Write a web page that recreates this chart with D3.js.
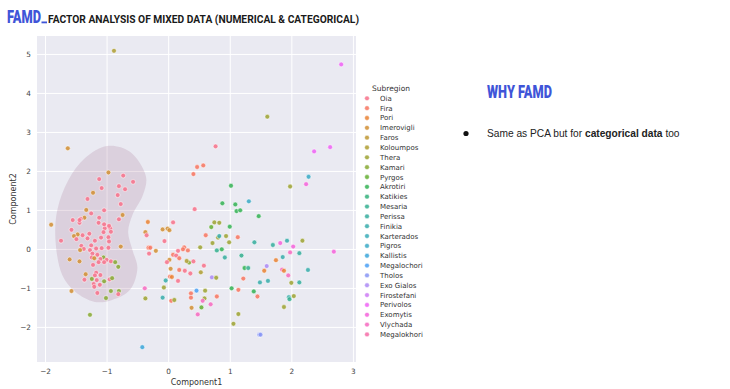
<!DOCTYPE html>
<html>
<head>
<meta charset="utf-8">
<script src="https://cdn.jsdelivr.net/npm/d3@7"></script>
<style>
  body { margin: 0; background: #fff; }
  svg { display: block; }
</style>
</head>
<body>
<svg id="chart" width="730" height="389"></svg>
<script>
console.log("JS Running");

// legend order of the hue variable
var subregions = ["Oia", "Fira", "Pori", "Imerovigli", "Faros", "Koloumpos", "Thera",
  "Kamari", "Pyrgos", "Akrotiri", "Katikies", "Mesaria", "Perissa", "Finikia",
  "Karterados", "Pigros", "Kallistis", "Megalochori", "Tholos", "Exo Gialos",
  "Firostefani", "Perivolos", "Exomytis", "Vlychada", "Megalokhori"];

var xTicks = [-2, -1, 0, 1, 2, 3];
var yTicks = [-2, -1, 0, 1, 2, 3, 4, 5];

// [Component1, Component2, Subregion]
var points = [
  [-0.88, 5.08, "Koloumpos"], [-1.63, 2.58, "Imerovigli"], [-0.97, 1.96, "Imerovigli"],
  [-1.12, 1.79, "Oia"], [-0.73, 1.88, "Oia"], [-1.08, 1.56, "Oia"], [-0.80, 1.61, "Oia"],
  [-0.70, 1.53, "Oia"], [-0.57, 1.72, "Oia"], [-0.82, 1.38, "Oia"], [-1.22, 1.44, "Imerovigli"],
  [-1.31, 1.28, "Oia"], [-0.77, 1.15, "Oia"], [-1.33, 1.00, "Imerovigli"], [-1.04, 0.99, "Oia"],
  [-1.25, 0.91, "Oia"], [-0.74, 0.87, "Imerovigli"], [-1.36, 0.80, "Imerovigli"], [-1.42, 0.77, "Oia"],
  [-1.55, 0.74, "Oia"], [-1.12, 0.80, "Oia"], [-0.80, 0.76, "Oia"], [-1.44, 0.67, "Oia"],
  [-1.13, 0.67, "Oia"], [-1.90, 0.62, "Imerovigli"], [-1.57, 0.49, "Oia"], [-1.28, 0.39, "Oia"],
  [-1.39, 0.35, "Oia"], [-1.47, 0.37, "Imerovigli"], [-1.53, 0.33, "Imerovigli"], [-0.94, 0.53, "Oia"],
  [-1.03, 0.53, "Oia"], [-1.05, 0.43, "Oia"], [-0.97, 0.30, "Oia"], [-1.31, 0.27, "Oia"],
  [-1.74, 0.21, "Oia"], [-1.49, 0.25, "Oia"], [-1.19, 0.21, "Oia"], [-1.09, 0.29, "Oia"],
  [-0.96, 0.19, "Oia"], [-1.41, 0.08, "Oia"], [-1.37, 0.00, "Oia"], [-1.43, -0.03, "Imerovigli"],
  [-1.25, 0.09, "Oia"], [-1.27, -0.03, "Oia"], [-1.17, 0.01, "Oia"], [-1.08, 0.02, "Oia"],
  [-0.97, 0.03, "Oia"], [-0.77, 0.06, "Imerovigli"], [-1.23, -0.12, "Oia"], [-1.15, -0.15, "Oia"],
  [-1.24, -0.22, "Oia"], [-1.20, -0.24, "Imerovigli"], [-1.05, -0.22, "Kamari"], [-1.10, -0.26, "Oia"],
  [-1.00, -0.28, "Oia"], [-1.13, -0.34, "Oia"], [-1.04, -0.34, "Oia"], [-0.93, -0.32, "Oia"],
  [-1.60, -0.27, "Imerovigli"], [-1.44, -0.32, "Imerovigli"], [-0.86, -0.34, "Kamari"], [-0.81, -0.46, "Kamari"],
  [-1.22, -0.41, "Oia"], [-1.17, -0.61, "Oia"], [-1.34, -0.65, "Imerovigli"], [-1.19, -0.68, "Oia"],
  [-1.10, -0.67, "Oia"], [-1.24, -0.77, "Kamari"], [-1.36, -0.79, "Oia"], [-1.16, -0.80, "Oia"],
  [-1.21, -0.90, "Oia"], [-1.20, -0.97, "Oia"], [-1.04, -0.83, "Kamari"], [-1.11, -0.92, "Oia"],
  [-0.95, -0.78, "Oia"], [-0.91, -0.75, "Kamari"], [-1.57, -1.08, "Imerovigli"], [-1.15, -1.13, "Oia"],
  [-0.93, -1.08, "Kamari"], [-0.80, -1.08, "Kamari"], [-0.81, -1.16, "Oia"], [-1.01, -1.26, "Kamari"],
  [-1.27, -1.69, "Kamari"], [-1.44, 0.74, "Oia"], [-1.04, 0.63, "Oia"], [-0.96, 0.59, "Oia"],
  [-0.93, 0.44, "Oia"],
  [0.43, 1.02, "Oia"], [-0.33, 0.69, "Pori"], [0.08, 0.68, "Oia"], [-0.37, 0.43, "Imerovigli"],
  [-0.35, 0.35, "Oia"], [-0.09, 0.50, "Imerovigli"], [-0.01, 0.52, "Imerovigli"], [0.02, 0.48, "Imerovigli"],
  [-0.06, 0.20, "Oia"], [-0.32, 0.03, "Fira"], [-0.29, 0.03, "Fira"], [-0.20, -0.05, "Imerovigli"],
  [-0.31, -0.12, "Oia"], [0.26, 0.04, "Fira"], [0.24, -0.01, "Fira"], [0.32, -0.04, "Fira"],
  [0.16, -0.05, "Oia"], [0.08, -0.15, "Fira"], [0.13, -0.17, "Oia"], [0.18, -0.24, "Fira"],
  [0.02, -0.28, "Imerovigli"], [-0.02, -0.34, "Oia"], [0.34, -0.35, "Kamari"], [0.41, -0.32, "Oia"],
  [0.30, -0.31, "Koloumpos"], [0.58, -0.43, "Oia"], [0.04, -0.51, "Imerovigli"], [0.18, -0.54, "Fira"],
  [0.27, -0.56, "Oia"], [0.36, -0.63, "Oia"], [0.53, -0.60, "Koloumpos"], [0.03, -0.71, "Fira"],
  [0.06, -0.72, "Pori"], [0.71, -0.73, "Exo Gialos"], [0.78, -0.74, "Thera"], [-0.04, -0.81, "Finikia"],
  [0.16, -0.82, "Oia"], [-0.38, -1.01, "Vlychada"], [-0.07, -0.99, "Thera"], [0.46, -1.07, "Megalochori"],
  [0.60, -1.07, "Thera"], [0.37, -1.14, "Fira"], [0.37, -1.25, "Fira"], [-0.37, -1.27, "Thera"],
  [-0.09, -1.25, "Finikia"], [0.05, -1.33, "Fira"], [0.10, -1.31, "Thera"], [0.59, -1.27, "Thera"],
  [0.56, -1.33, "Vlychada"], [0.79, -1.22, "Fira"], [0.38, -1.51, "Imerovigli"], [0.54, -1.50, "Pyrgos"],
  [0.69, -1.42, "Vlychada"], [0.48, -1.68, "Vlychada"], [-0.42, -2.52, "Kallistis"], [0.61, 0.35, "Fira"],
  [0.52, 0.04, "Thera"], [0.72, 0.15, "Thera"], [0.79, -0.04, "Mesaria"], [0.87, -0.01, "Akrotiri"],
  [0.77, 2.63, "Oia"], [0.57, 2.14, "Fira"], [0.47, 2.10, "Fira"], [0.41, 1.92, "Fira"],
  [1.61, 3.39, "Thera"], [1.02, 1.62, "Akrotiri"], [1.98, 1.60, "Thera"], [2.37, 2.50, "Perivolos"],
  [2.63, 2.61, "Perivolos"], [2.24, 1.66, "Exomytis"], [2.28, 1.85, "Pigros"], [2.81, 4.73, "Perivolos"],
  [0.88, 1.17, "Akrotiri"], [1.09, 1.14, "Akrotiri"], [1.31, 1.22, "Pigros"], [1.11, 0.97, "Akrotiri"],
  [1.17, 0.99, "Akrotiri"], [1.47, 0.84, "Akrotiri"], [0.75, 0.68, "Thera"], [0.83, 0.67, "Thera"],
  [0.70, 0.56, "Pyrgos"], [1.00, 0.57, "Akrotiri"], [0.94, 0.33, "Thera"], [0.81, 0.29, "Thera"],
  [0.83, 0.33, "Finikia"], [1.13, 0.30, "Fira"], [0.99, 0.17, "Thera"], [1.40, 0.17, "Perissa"],
  [1.70, 0.10, "Perissa"], [1.82, 0.15, "Exomytis"], [1.93, 0.21, "Finikia"], [2.18, 0.21, "Thera"],
  [2.03, 0.06, "Exomytis"], [1.98, -0.09, "Vlychada"], [2.13, -0.11, "Perissa"], [2.69, -0.07, "Exomytis"],
  [0.92, -0.22, "Perissa"], [1.19, -0.17, "Mesaria"], [1.86, -0.21, "Finikia"], [1.75, -0.29, "Pori"],
  [1.24, -0.49, "Akrotiri"], [1.30, -0.49, "Mesaria"], [1.60, -0.44, "Exo Gialos"], [1.56, -0.56, "Pori"],
  [1.85, -0.53, "Vlychada"], [1.88, -0.56, "Pori"], [2.27, -0.54, "Finikia"], [1.95, -0.68, "Vlychada"],
  [1.22, -0.76, "Fira"], [1.62, -0.82, "Finikia"], [1.49, -0.86, "Finikia"], [2.00, -0.87, "Thera"],
  [2.13, -0.86, "Perissa"], [1.03, -1.01, "Akrotiri"], [1.14, -1.05, "Fira"], [1.39, -1.09, "Akrotiri"],
  [1.45, -1.22, "Fira"], [1.96, -1.24, "Finikia"], [2.04, -1.21, "Thera"], [1.97, -1.29, "Mesaria"],
  [1.88, -1.49, "Thera"], [1.14, -1.67, "Thera"], [1.06, -1.92, "Thera"], [1.48, -2.20, "Tholos"],
  [1.50, -2.20, "Tholos"]
];

// highlighted cluster outline, in component units
var clusterOutline = [
  [-0.99, 2.64], [-0.62, 2.49], [-0.36, 1.85], [-0.41, 1.38], [-0.58, 0.87], [-0.65, 0.44],
  [-0.58, -0.03], [-0.50, -0.49], [-0.62, -1.05], [-0.91, -1.31], [-1.19, -1.36], [-1.51, -1.10],
  [-1.72, -0.67], [-1.83, 0.23], [-1.80, 1.00], [-1.62, 1.77], [-1.35, 2.33]
];

/* seaborn "husl" palette */
function huslToRgb(h, s, l) {
  var m = [[3.240969941904521, -1.537383177570093, -0.498610760293],
           [-0.96924363628087, 1.87596750150772, 0.041555057407175],
           [0.055630079696993, -0.20397695888897, 1.056971514242878]];
  var kappa = 903.2962962962963, eps = 0.0088564516790356308;
  var refU = 0.19783000664283681, refV = 0.468319994938791;
  var sub1 = Math.pow(l + 16, 3) / 1560896;
  var sub2 = sub1 > eps ? sub1 : l / kappa;
  var hr = h / 360 * 2 * Math.PI;
  var maxC = Infinity;
  m.forEach(function(r) {
    [0, 1].forEach(function(t) {
      var top1 = (284517 * r[0] - 94839 * r[2]) * sub2;
      var top2 = (838422 * r[2] + 769860 * r[1] + 731718 * r[0]) * l * sub2 - 769860 * t * l;
      var bottom = (632260 * r[2] - 126452 * r[1]) * sub2 + 126452 * t;
      var len = (top2 / bottom) / (Math.sin(hr) - (top1 / bottom) * Math.cos(hr));
      if (len >= 0) maxC = Math.min(maxC, len);
    });
  });
  var c = maxC / 100 * s;
  var u = c * Math.cos(hr), v = c * Math.sin(hr);
  var vu = u / (13 * l) + refU, vv = v / (13 * l) + refV;
  var Y = l <= 8 ? l / kappa : Math.pow((l + 16) / 116, 3);
  var X = -(9 * Y * vu) / ((vu - 4) * vv - vu * vv);
  var Z = (9 * Y - 15 * vv * Y - vv * X) / (3 * vv);
  var rgb = m.map(function(r) {
    var ch = r[0] * X + r[1] * Y + r[2] * Z;
    ch = ch <= 0.0031308 ? 12.92 * ch : 1.055 * Math.pow(ch, 1 / 2.4) - 0.055;
    return Math.round(Math.max(0, Math.min(1, ch)) * 255);
  });
  return d3.rgb(rgb[0], rgb[1], rgb[2]).formatHex();
}

var palette = subregions.map((d, i) => huslToRgb(((i / subregions.length + 0.01) % 1) * 359, 0.9 * 99, 0.65 * 99));
var color = d3.scaleOrdinal().domain(subregions).range(palette);

var pointOpacity = 0.85;

var svg = d3.select("#chart");

/* Title */
svg.append("text")
  .attr("x", 7).attr("y", 23)
  .attr("textLength", 34).attr("lengthAdjust", "spacingAndGlyphs")
  .style("font-family", "Roboto, 'Liberation Sans', sans-serif")
  .style("font-weight", "900").style("font-size", "18px")
  .style("fill", "#3f55d8")
  .text("FAMD");

svg.append("rect")
  .attr("x", 41.5).attr("y", 21.5).attr("width", 5.5).attr("height", 1.8)
  .style("fill", "#3f55d8");

svg.append("text")
  .attr("x", 48).attr("y", 23)
  .attr("textLength", 311).attr("lengthAdjust", "spacingAndGlyphs")
  .style("font-family", "Roboto, 'Liberation Sans', sans-serif")
  .style("font-weight", "bold").style("font-size", "10.7px")
  .style("fill", "#1a1a1a")
  .text("FACTOR ANALYSIS OF MIXED DATA (NUMERICAL & CATEGORICAL)");

/* Scale */
var xScale = d3.scaleLinear().domain([-2.13, 3.05]).range([37, 356]);
var yScale = d3.scaleLinear().domain([-2.9, 5.46]).range([362, 36]);

var plot = svg.append("g");

plot.append("rect")
  .attr("x", xScale.range()[0]).attr("y", yScale.range()[1])
  .attr("width", xScale.range()[1] - xScale.range()[0])
  .attr("height", yScale.range()[0] - yScale.range()[1])
  .style("fill", "#eaeaf2");

/* grid */
plot.append("g")
  .attr("transform", `translate(0, ${yScale.range()[0]})`)
  .call(d3.axisBottom(xScale).tickValues(xTicks).tickSize(-(yScale.range()[0] - yScale.range()[1])).tickFormat(""))
  .call(g => g.select(".domain").remove())
  .call(g => g.selectAll("line").attr("stroke", "#fff").attr("stroke-width", 1));

plot.append("g")
  .attr("transform", `translate(${xScale.range()[0]}, 0)`)
  .call(d3.axisLeft(yScale).tickValues(yTicks).tickSize(-(xScale.range()[1] - xScale.range()[0])).tickFormat(""))
  .call(g => g.select(".domain").remove())
  .call(g => g.selectAll("line").attr("stroke", "#fff").attr("stroke-width", 1));

/* cluster shape */
var outline = d3.line()
  .x(d => xScale(d[0]))
  .y(d => yScale(d[1]))
  .curve(d3.curveCatmullRomClosed.alpha(0.5));

plot.append("path")
  .attr("d", outline(clusterOutline))
  .style("fill", "rgb(160,105,140)")
  .style("opacity", 0.2);

/* points */
plot.append("g")
  .selectAll("circle")
  .data(points)
  .enter()
  .append("circle")
  .attr("cx", d => xScale(d[0]))
  .attr("cy", d => yScale(d[1]))
  .attr("r", 2.4)
  .style("fill", d => color(d[2]))
  .style("fill-opacity", pointOpacity)
  .style("stroke", "#fff")
  .style("stroke-width", 0.5);

/* Axis labels */
var tickFont = "'DejaVu Sans', sans-serif";
var fmt = d => d < 0 ? "\u2212" + Math.abs(d) : d;

plot.append("g")
  .attr("transform", `translate(0, ${yScale.range()[0]})`)
  .call(d3.axisBottom(xScale).tickValues(xTicks).tickSize(0).tickPadding(7).tickFormat(fmt))
  .call(g => g.select(".domain").remove())
  .call(g => g.selectAll("text").style("font-family", tickFont).style("font-size", "7.3px").style("fill", "#444"));

plot.append("g")
  .attr("transform", `translate(${xScale.range()[0]}, 0)`)
  .call(d3.axisLeft(yScale).tickValues(yTicks).tickSize(0).tickPadding(6).tickFormat(fmt))
  .call(g => g.select(".domain").remove())
  .call(g => g.selectAll("text").style("font-family", tickFont).style("font-size", "7.3px").style("fill", "#444"));

svg.append("text")
  .attr("x", (xScale.range()[0] + xScale.range()[1]) / 2)
  .attr("y", 385)
  .attr("text-anchor", "middle")
  .style("font-family", tickFont).style("font-size", "8px").style("fill", "#333")
  .text("Component1");

svg.append("text")
  .attr("transform", `translate(16, ${(yScale.range()[0] + yScale.range()[1]) / 2}) rotate(-90)`)
  .attr("text-anchor", "middle")
  .style("font-family", tickFont).style("font-size", "8px").style("fill", "#333")
  .text("Component2");

/* Legend */
var legend = svg.append("g").attr("transform", "translate(367, 0)");

legend.append("text")
  .attr("x", 5).attr("y", 91)
  .style("font-family", tickFont).style("font-size", "7.5px").style("fill", "#333")
  .text("Subregion");

var items = legend.selectAll(".item")
  .data(subregions)
  .enter()
  .append("g")
  .attr("class", "item")
  .attr("transform", (d, i) => `translate(0, ${98.3 + i * 9.84})`);

items.append("circle")
  .attr("r", 2.4)
  .style("fill", d => color(d))
  .style("fill-opacity", pointOpacity)
  .style("stroke", "#fff")
  .style("stroke-width", 0.5);

items.append("text")
  .attr("x", 13).attr("y", 2.5)
  .style("font-family", tickFont).style("font-size", "7px").style("fill", "#333")
  .text(d => d);

/* Side note */
svg.append("text")
  .attr("x", 487).attr("y", 98)
  .attr("textLength", 65).attr("lengthAdjust", "spacingAndGlyphs")
  .style("font-family", "Roboto, 'Liberation Sans', sans-serif")
  .style("font-weight", "900").style("font-size", "18px")
  .style("fill", "#3f55d8")
  .text("WHY FAMD");

svg.append("circle")
  .attr("cx", 466).attr("cy", 133.5).attr("r", 2.6)
  .style("fill", "#111");

var note = svg.append("text")
  .attr("x", 487).attr("y", 137)
  .style("font-family", "'Liberation Sans', Arial, sans-serif")
  .style("font-size", "10.2px").style("fill", "#222");
note.append("tspan").text("Same as PCA but for ");
note.append("tspan").style("font-weight", "bold").text("categorical data");
note.append("tspan").text(" too");
</script>
</body>
</html>
